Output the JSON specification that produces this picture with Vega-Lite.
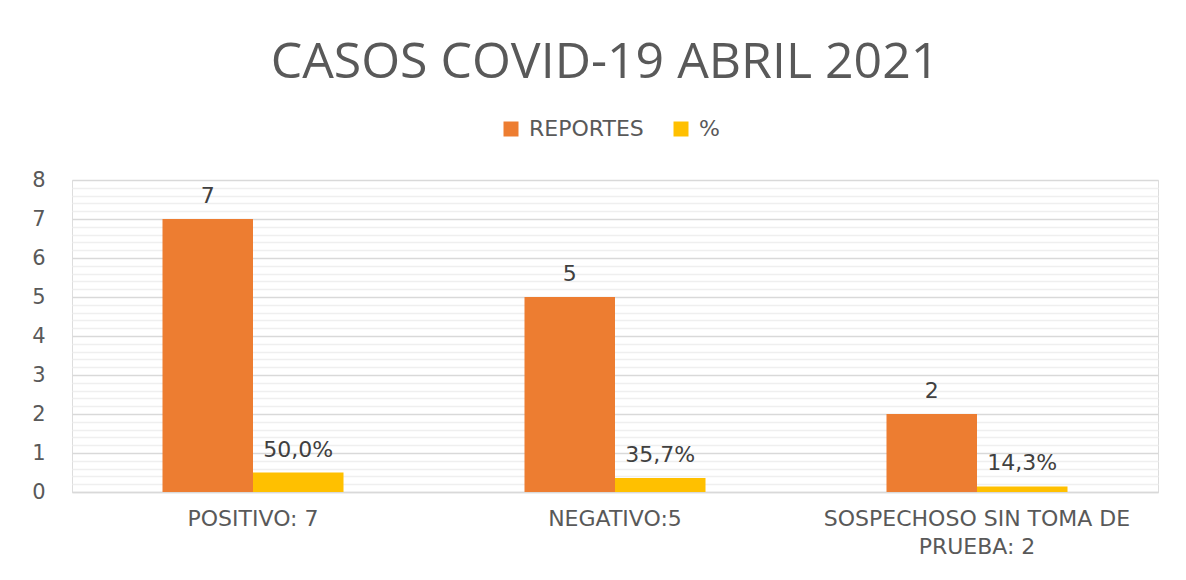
{
  "$schema": "https://vega.github.io/schema/vega-lite/v6.json",
  "autosize": "none",
  "width": 1086,
  "height": 312,
  "padding": {"left": 72, "top": 180, "right": 28, "bottom": 88},
  "background": "#ffffff",
  "title": {
    "text": "CASOS COVID-19 ABRIL 2021",
    "fontSize": 50,
    "font": "Open Sans",
    "fontWeight": "normal",
    "color": "#595959",
    "anchor": "middle",
    "offset": 30,
    "dx": -10
  },
  "data": {
    "values": [
      {"cat": "POSITIVO: 7", "serie": "REPORTES", "value": 7, "label": "7"},
      {"cat": "POSITIVO: 7", "serie": "%", "value": 0.5, "label": "50,0%"},
      {"cat": "NEGATIVO:5", "serie": "REPORTES", "value": 5, "label": "5"},
      {"cat": "NEGATIVO:5", "serie": "%", "value": 0.357, "label": "35,7%"},
      {"cat": "SOSPECHOSO SIN TOMA DE PRUEBA: 2", "serie": "REPORTES", "value": 2, "label": "2"},
      {"cat": "SOSPECHOSO SIN TOMA DE PRUEBA: 2", "serie": "%", "value": 0.143, "label": "14,3%"}
    ]
  },
  "encoding": {
    "x": {
      "field": "cat",
      "type": "nominal",
      "sort": null,
      "scale": {"paddingInner": 0.5, "paddingOuter": 0.25},
      "axis": {
        "title": null,
        "labelAngle": 0,
        "labelFont": "DejaVu Sans",
        "labelFontSize": 22,
        "labelColor": "#595959",
        "labelPadding": 16,
        "labelLineHeight": 28,
        "labelLimit": 0,
        "ticks": false,
        "domainColor": "#d9d9d9",
        "domainWidth": 1.5,
        "labelExpr": "datum.label == 'SOSPECHOSO SIN TOMA DE PRUEBA: 2' ? ['SOSPECHOSO SIN TOMA DE', 'PRUEBA: 2'] : datum.label"
      }
    },
    "xOffset": {"field": "serie", "type": "nominal", "sort": ["REPORTES", "%"]},
    "y": {
      "field": "value",
      "type": "quantitative",
      "scale": {"domain": [0, 8], "nice": false},
      "axis": {
        "title": null,
        "values": [0, 0.2, 0.4, 0.6, 0.8, 1, 1.2, 1.4, 1.6, 1.8, 2, 2.2, 2.4, 2.6, 2.8, 3, 3.2, 3.4, 3.6, 3.8, 4, 4.2, 4.4, 4.6, 4.8, 5, 5.2, 5.4, 5.6, 5.8, 6, 6.2, 6.4, 6.6, 6.8, 7, 7.2, 7.4, 7.6, 7.8, 8],
        "labelExpr": "abs(datum.value - round(datum.value)) < 0.01 ? format(datum.value, 'd') : ''",
        "gridColor": {"condition": {"test": "abs(datum.value - round(datum.value)) < 0.01", "value": "#d9d9d9"}, "value": "#efefef"},
        "gridWidth": 1.5,
        "domain": false,
        "ticks": false,
        "labelFont": "DejaVu Sans",
        "labelFontSize": 21,
        "labelColor": "#595959",
        "labelPadding": 27
      }
    }
  },
  "layer": [
    {
      "mark": {"type": "bar"},
      "encoding": {
        "color": {
          "field": "serie",
          "type": "nominal",
          "scale": {"domain": ["REPORTES", "%"], "range": ["#ED7D31", "#FFC000"]},
          "legend": {
            "title": null,
            "orient": "none",
            "direction": "horizontal",
            "legendX": 428,
            "legendY": -62,
            "symbolType": "square",
            "symbolSize": 225,
            "symbolStrokeWidth": 0,
            "labelFont": "DejaVu Sans",
            "labelFontSize": 22,
            "labelColor": "#595959",
            "columnPadding": 26,
            "labelOffset": 7
          }
        }
      }
    },
    {
      "mark": {"type": "text", "baseline": "bottom", "dy": -11, "font": "DejaVu Sans", "fontSize": 22, "color": "#404040"},
      "encoding": {"text": {"field": "label"}}
    }
  ]
}
